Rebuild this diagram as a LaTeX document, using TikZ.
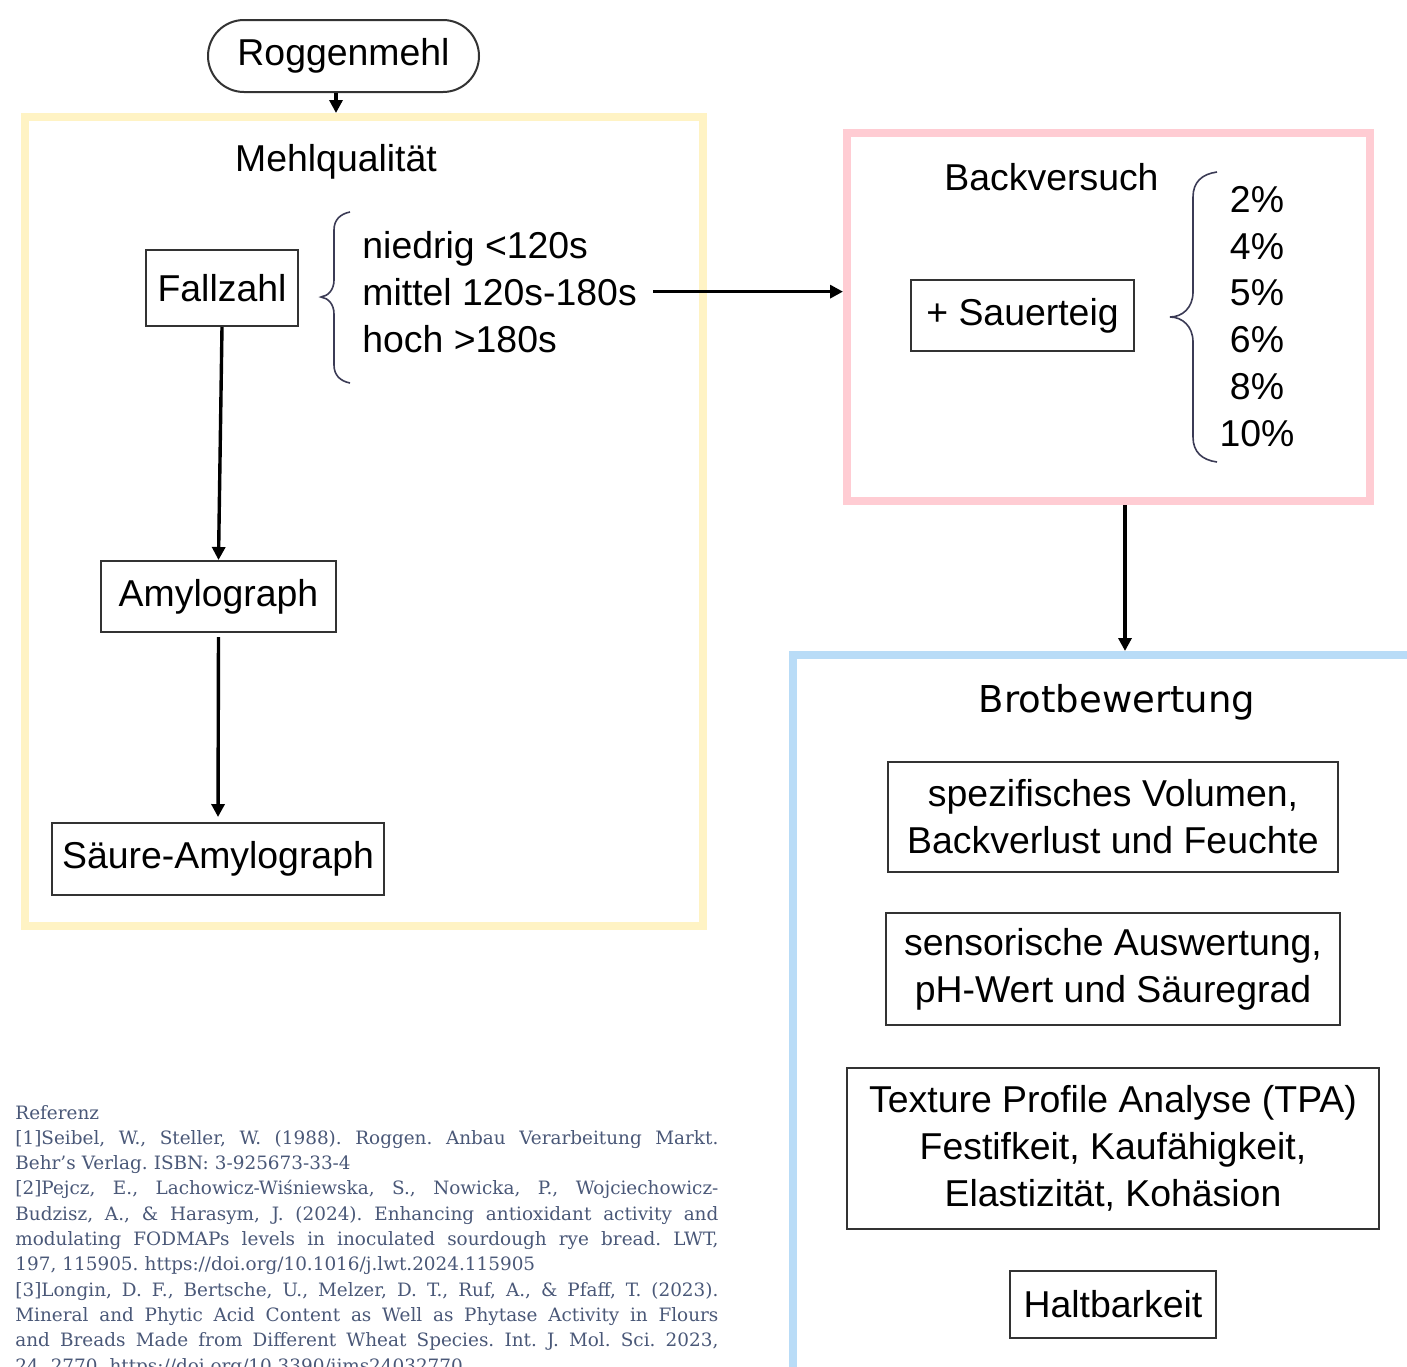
\documentclass[tikz,border=0pt]{standalone}
\usepackage{fontspec}
\setmainfont{Liberation Sans}
\newfontfamily\brotfont{DejaVu Sans}
\newfontfamily\reffont{DejaVu Serif}
\usetikzlibrary{arrows.meta}
\definecolor{yelc}{HTML}{FFF3C4}
\definecolor{redc}{HTML}{FFCCD3}
\definecolor{bluc}{HTML}{B9DCF7}
\definecolor{refc}{RGB}{74,88,120}
\definecolor{bracec}{HTML}{3B3B55}
\newcommand{\jl}[1]{\leavevmode\hbox to 351.5pt{\frenchspacing\spaceskip=0.3em plus 1fill\relax #1}}
\tikzset{
  mainfont/.style={font=\fontsize{18.7pt}{23.4pt}\selectfont},
  stepbox/.style={draw=black!80, line width=1pt, inner sep=0pt, align=center, mainfont},
  frame/.style={draw=#1, line width=4pt, inner sep=0pt},
  arr/.style={line width=1.7pt, -{Triangle[length=6.5pt,width=6.5pt]}},
  lbl/.style={inner sep=0pt, mainfont},
  bracepath/.style={draw=bracec, line width=0.8pt}
}
\begin{document}
\begin{tikzpicture}[x=0.5pt, y=-0.5pt]
\useasboundingbox (0,0) rectangle (1407,1366);
\fill[white] (0,0) rectangle (1407,1366);
\clip (0,0) rectangle (1407,1366);

% containers
\node[frame=yelc, minimum width=339pt, minimum height=404.5pt] (yel) at (364,521.5) {};
\node[frame=redc, minimum width=261.5pt, minimum height=184pt] (red) at (1108.5,317) {};
\node[frame=bluc, minimum width=333.5pt, minimum height=382.5pt] (blue) at (1126.5,1037.5) {};

% top
\node[draw=black!80, line width=1pt, rounded corners=18pt, minimum width=135.5pt, minimum height=36pt, inner sep=0pt, mainfont] (rog) at (343.5,56) {Roggenmehl};

% Mehlqualitaet
\node[lbl, anchor=base] (mqt) at (336,171) {Mehlqualität};
\node[stepbox, minimum width=76pt, minimum height=38pt] (fz) at (222,288) {Fallzahl};
\node[stepbox, minimum width=117.5pt, minimum height=35.5pt] (amy) at (218.5,596.5) {Amylograph};
\node[stepbox, minimum width=166pt, minimum height=36pt] (sam) at (218,859) {Säure-Amylograph};

\node[lbl, anchor=base west] (nied) at (362,258) {niedrig <120s};
\node[lbl, anchor=base west] (mitt) at (362,305) {mittel 120s-180s};
\node[lbl, anchor=base west] (hoch) at (362,352) {hoch >180s};

\path[bracepath] (350,212) .. controls (340,214) and (334,220) .. (334,230) -- (334,280)
  .. controls (334,290) and (328,296) .. (321,297)
  .. controls (328,298) and (334,304) .. (334,314) -- (334,365)
  .. controls (334,375) and (340,381) .. (350,383);

% Backversuch
\node[lbl, anchor=base] (bvt) at (1051.5,190) {Backversuch};
\node[stepbox, minimum width=111.5pt, minimum height=35.5pt] (sau) at (1022.5,315.5) {+ Sauerteig};
\node[lbl, anchor=base, align=center, font=\fontsize{18.7pt}{23.35pt}\selectfont] (pct) at (1257,446) {2\%\\4\%\\5\%\\6\%\\8\%\\10\%};
\path[bracepath] (1217,172) .. controls (1202,174) and (1193,182) .. (1193,197) -- (1193,292)
  .. controls (1193,308) and (1182,317) .. (1170,317)
  .. controls (1182,317) and (1193,326) .. (1193,342) -- (1193,437)
  .. controls (1193,452) and (1202,460) .. (1217,462);

% Brotbewertung
\node[inner sep=0pt, anchor=base, font=\brotfont\fontsize{18.5pt}{22pt}\selectfont] (bbt) at (1117,712) {Brotbewertung};
\node[stepbox, minimum width=225pt, minimum height=55pt] (b1) at (1113,817) {spezifisches Volumen,\\Backverlust und Feuchte};
\node[stepbox, minimum width=227pt, minimum height=56pt] (b2) at (1113,969) {sensorische Auswertung,\\pH-Wert und Säuregrad};
\node[stepbox, minimum width=266pt, minimum height=80.5pt] (b3) at (1113,1148.5) {Texture Profile Analyse (TPA)\\Festifkeit, Kaufähigkeit,\\Elastizität, Kohäsion};
\node[stepbox, minimum width=103pt, minimum height=33.5pt] (b4) at (1113,1304.5) {Haltbarkeit};

% connectors
\draw[arr] (rog.south -| mqt) -- (yel.north -| mqt);
\draw[arr] (fz.south) -- (amy.north);
\draw[arr, shorten <=2pt, shorten >=2.5pt] (amy.south) -- (sam.north);
\draw[arr] ([xshift=8pt]mitt.east) -- (red.west |- mitt.east);
\draw[arr] ([xshift=8.25pt]red.south) -- ([xshift=8.25pt]red.south |- blue.north);

% references
\node[anchor=base west, text width=351.5pt, align=left, inner sep=0pt, text=refc,
      font=\reffont\fontsize{9.2pt}{12.65pt}\selectfont] (refs) at (15,1119) {%
Referenz\\
\jl{[1]Seibel, W., Steller, W. (1988). Roggen. Anbau Verarbeitung Markt.}\\
{\frenchspacing Behr’s Verlag. ISBN: 3-925673-33-4}\\
\jl{[2]Pejcz, E., Lachowicz-Wiśniewska, S., Nowicka, P., Wojciechowicz-}\\
\jl{Budzisz, A., \& Harasym, J. (2024). Enhancing antioxidant activity and}\\
\jl{modulating FODMAPs levels in inoculated sourdough rye bread. LWT,}\\
{\frenchspacing 197, 115905. https://doi.org/10.1016/j.lwt.2024.115905}\\
\jl{[3]Longin, D. F., Bertsche, U., Melzer, D. T., Ruf, A., \& Pfaff, T. (2023).}\\
\jl{Mineral and Phytic Acid Content as Well as Phytase Activity in Flours}\\
\jl{and Breads Made from Different Wheat Species. Int. J. Mol. Sci. 2023,}\\
{\frenchspacing 24, 2770. https://doi.org/10.3390/ijms24032770}};
\end{tikzpicture}
\end{document}
